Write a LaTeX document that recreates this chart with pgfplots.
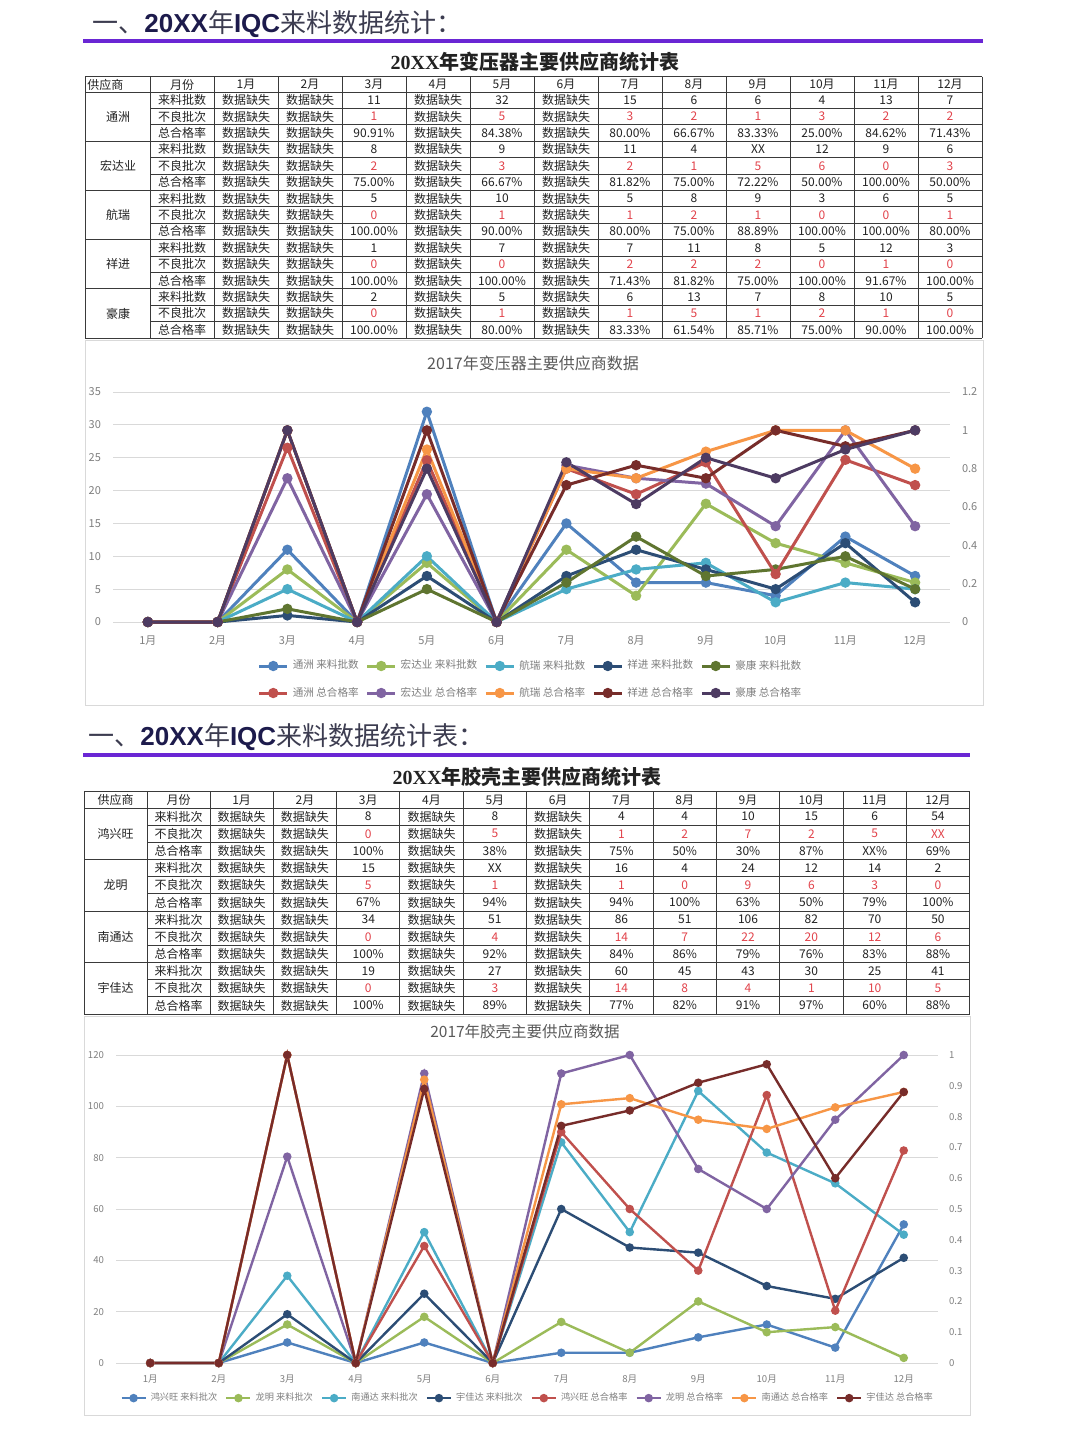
\documentclass[border=0pt]{standalone}
\usepackage{pgfplots}
\pgfplotsset{compat=1.18}
\usepackage{pgfplotstable}
\usepackage{fontspec}
\setmainfont{Noto Sans CJK SC}
\newfontfamily\hd{Liberation Sans}
\newfontfamily\ser{Liberation Serif}

\definecolor{cblue}{HTML}{4F81BD}
\definecolor{cred}{HTML}{C0504D}
\definecolor{cgreen}{HTML}{9BBB59}
\definecolor{cpurple}{HTML}{8064A2}
\definecolor{caqua}{HTML}{4BACC6}
\definecolor{corange}{HTML}{F79646}
\definecolor{cnavy}{HTML}{2C4D75}
\definecolor{cdred}{HTML}{772C2A}
\definecolor{colive}{HTML}{5F7530}
\definecolor{cdpurple}{HTML}{4D3B62}
\definecolor{tickgray}{HTML}{7F7F7F}
\definecolor{titlegray}{HTML}{595959}
\definecolor{gridgray}{HTML}{D9D9D9}
\definecolor{hpurple}{HTML}{6A26D4}
\definecolor{hnavy}{HTML}{1D1B4C}
\definecolor{hgray}{HTML}{3C3C50}
\definecolor{tred}{HTML}{E2434B}
\definecolor{tline}{HTML}{3A3A3A}
\definecolor{ttext}{HTML}{222222}

\def\M{数据缺失}
\newcommand\R[1]{\textcolor{tred}{#1}}

\newcommand\TArow[3]{%
  \node[tc] at (182,{92+16.4*(#1+0.5)}) {#2};
  \foreach \v [count=\i from 0] in {#3}{\node[tc] at ({246+64*\i},{92+16.4*(#1+0.5)}) {\v};}%
}
\newcommand\TBrow[3]{%
  \node[tc] at (178.5,{808+17.17*(#1+0.5)}) {#2};
  \foreach \v [count=\i from 0] in {#3}{\node[tc] at ({241.65+63.3*\i},{808+17.17*(#1+0.5)}) {\v};}%
}

\pgfplotstableread{
m tzA hdA hrA xjA hkA tzB hdB hrB xjB hkB
1 0 0 0 0 0 0 0 0 0 0
2 0 0 0 0 0 0 0 0 0 0
3 11 8 5 1 2 0.9091 0.75 1.00 1.00 1.00
4 0 0 0 0 0 0 0 0 0 0
5 32 9 10 7 5 0.8438 0.6667 0.90 1.00 0.80
6 0 0 0 0 0 0 0 0 0 0
7 15 11 5 7 6 0.80 0.8182 0.80 0.7143 0.8333
8 6 4 8 11 13 0.6667 0.75 0.75 0.8182 0.6154
9 6 18 9 8 7 0.8333 0.7222 0.8889 0.75 0.8571
10 4 12 3 5 8 0.25 0.50 1.00 1.00 0.75
11 13 9 6 12 10 0.8462 1.00 1.00 0.9167 0.90
12 7 6 5 3 5 0.7143 0.50 0.80 1.00 1.00
}\dataA

\pgfplotstableread{
m hxA lmA ntA yjA hxB lmB ntB yjB
1 0 0 0 0 0 0 0 0
2 0 0 0 0 0 0 0 0
3 8 15 34 19 1.00 0.67 1.00 1.00
4 0 0 0 0 0 0 0 0
5 8 18 51 27 0.38 0.94 0.92 0.89
6 0 0 0 0 0 0 0 0
7 4 16 86 60 0.75 0.94 0.84 0.77
8 4 4 51 45 0.50 1.00 0.86 0.82
9 10 24 106 43 0.30 0.63 0.79 0.91
10 15 12 82 30 0.87 0.50 0.76 0.97
11 6 14 70 25 0.17 0.79 0.83 0.60
12 54 2 50 41 0.69 1.00 0.88 0.88
}\dataB

\pgfplotsset{
  cbase/.style={scale only axis, xmin=0.5, xmax=12.5, xtick={1,...,12},
    xticklabels={1月,2月,3月,4月,5月,6月,7月,8月,9月,10月,11月,12月},
    major tick length=0pt, axis line style={draw=none},
    ticklabel style={text=tickgray},
    /pgf/number format/assume math mode=true,
    clip=false, grid style={gridgray, line width=0.5pt}},
  s1/.style={color=#1, line width=1.5pt, mark=*, mark size=1.8pt, mark options={solid, fill=#1}},
  s2/.style={color=#1, line width=1.2pt, mark=*, mark size=1.5pt, mark options={solid, fill=#1}},
}

\begin{document}
\begin{tikzpicture}
\begin{scope}[x=0.5pt,y=-0.5pt]
\fill[white] (0,0) rectangle (1080,1440);
\tikzset{tc/.style={font=\fontsize{6}{7}\selectfont, text=ttext, inner sep=0pt}}

% ---------- header 1
\node[anchor=west, inner sep=0pt, font=\fontsize{13}{15}\selectfont, text=hgray] at (92,24)
  {一、{\hd\bfseries\color{hnavy}20XX}年{\hd\bfseries\color{hnavy}IQC}来料数据统计：};
\draw[hpurple, line width=2pt] (83,41) -- (983,41);
\node[font=\fontsize{10}{12}\selectfont\bfseries, text=ttext] at (535,62) {{\ser\bfseries 20XX}年变压器主要供应商统计表};

% ---------- table 1 grid
\foreach \x in {85,150,214,278,...,982} \draw[tline, line width=0.5pt] (\x,76.5) -- (\x,338);
\draw[tline, line width=0.5pt] (85,76.5) -- (982,76.5);
\foreach \k in {0,...,15} \draw[tline, line width=0.5pt] (150,{92+16.4*\k}) -- (982,{92+16.4*\k});
\foreach \s in {0,...,5} \draw[tline, line width=0.5pt] (85,{92+49.2*\s}) -- (982,{92+49.2*\s});
\node[tc, anchor=west] at (87,84.5) {供应商};
\node[tc] at (182,84.5) {月份};
\foreach \i in {1,...,12} \node[tc] at ({246+64*(\i-1)},84.5) {\i 月};
\node[tc] at (118,{92+16.4*1.5}) {通洲};
\node[tc] at (118,{92+16.4*4.5}) {宏达业};
\node[tc] at (118,{92+16.4*7.5}) {航瑞};
\node[tc] at (118,{92+16.4*10.5}) {祥进};
\node[tc] at (118,{92+16.4*13.5}) {豪康};
\TArow{0}{来料批数}{\M,\M,11,\M,32,\M,15,6,6,4,13,7}
\TArow{1}{不良批次}{\M,\M,\R1,\M,\R5,\M,\R3,\R2,\R1,\R3,\R2,\R2}
\TArow{2}{总合格率}{\M,\M,90.91\%,\M,84.38\%,\M,80.00\%,66.67\%,83.33\%,25.00\%,84.62\%,71.43\%}
\TArow{3}{来料批数}{\M,\M,8,\M,9,\M,11,4,XX,12,9,6}
\TArow{4}{不良批次}{\M,\M,\R2,\M,\R3,\M,\R2,\R1,\R5,\R6,\R0,\R3}
\TArow{5}{总合格率}{\M,\M,75.00\%,\M,66.67\%,\M,81.82\%,75.00\%,72.22\%,50.00\%,100.00\%,50.00\%}
\TArow{6}{来料批数}{\M,\M,5,\M,10,\M,5,8,9,3,6,5}
\TArow{7}{不良批次}{\M,\M,\R0,\M,\R1,\M,\R1,\R2,\R1,\R0,\R0,\R1}
\TArow{8}{总合格率}{\M,\M,100.00\%,\M,90.00\%,\M,80.00\%,75.00\%,88.89\%,100.00\%,100.00\%,80.00\%}
\TArow{9}{来料批数}{\M,\M,1,\M,7,\M,7,11,8,5,12,3}
\TArow{10}{不良批次}{\M,\M,\R0,\M,\R0,\M,\R2,\R2,\R2,\R0,\R1,\R0}
\TArow{11}{总合格率}{\M,\M,100.00\%,\M,100.00\%,\M,71.43\%,81.82\%,75.00\%,100.00\%,91.67\%,100.00\%}
\TArow{12}{来料批数}{\M,\M,2,\M,5,\M,6,13,7,8,10,5}
\TArow{13}{不良批次}{\M,\M,\R0,\M,\R1,\M,\R1,\R5,\R1,\R2,\R1,\R0}
\TArow{14}{总合格率}{\M,\M,100.00\%,\M,80.00\%,\M,83.33\%,61.54\%,85.71\%,75.00\%,90.00\%,100.00\%}

% chart 1 frame & title
\draw[gray!30, line width=0.5pt] (85,340) rectangle (983,705);
\node[font=\fontsize{8}{10}\selectfont, text=titlegray] at (533,363) {2017年变压器主要供应商数据};

% ---------- header 2
\node[anchor=west, inner sep=0pt, font=\fontsize{13}{15}\selectfont, text=hgray] at (88,737)
  {一、{\hd\bfseries\color{hnavy}20XX}年{\hd\bfseries\color{hnavy}IQC}来料数据统计表：};
\draw[hpurple, line width=2pt] (83,755) -- (970,755);
\node[font=\fontsize{10}{12}\selectfont\bfseries, text=ttext] at (527,777) {{\ser\bfseries 20XX}年胶壳主要供应商统计表};

% ---------- table 2 grid
\foreach \x in {84,147} \draw[tline, line width=0.5pt] (\x,791) -- (\x,1014);
\foreach \k in {0,...,12} \draw[tline, line width=0.5pt] ({210+63.3*\k},791) -- ({210+63.3*\k},1014);
\draw[tline, line width=0.5pt] (84,791) -- (969.6,791);
\foreach \k in {0,...,12} \draw[tline, line width=0.5pt] (147,{808+17.17*\k}) -- (969.6,{808+17.17*\k});
\foreach \s in {0,...,4} \draw[tline, line width=0.5pt] (84,{808+51.5*\s}) -- (969.6,{808+51.5*\s});
\node[tc] at (115.5,800) {供应商};
\node[tc] at (178.5,800) {月份};
\foreach \i in {1,...,12} \node[tc] at ({241.65+63.3*(\i-1)},800) {\i 月};
\node[tc] at (115.5,{808+17.17*1.5}) {鸿兴旺};
\node[tc] at (115.5,{808+17.17*4.5}) {龙明};
\node[tc] at (115.5,{808+17.17*7.5}) {南通达};
\node[tc] at (115.5,{808+17.17*10.5}) {宇佳达};
\TBrow{0}{来料批次}{\M,\M,8,\M,8,\M,4,4,10,15,6,54}
\TBrow{1}{不良批次}{\M,\M,\R0,\M,\R5,\M,\R1,\R2,\R7,\R2,\R5,\R{XX}}
\TBrow{2}{总合格率}{\M,\M,100\%,\M,38\%,\M,75\%,50\%,30\%,87\%,XX\%,69\%}
\TBrow{3}{来料批次}{\M,\M,15,\M,XX,\M,16,4,24,12,14,2}
\TBrow{4}{不良批次}{\M,\M,\R5,\M,\R1,\M,\R1,\R0,\R9,\R6,\R3,\R0}
\TBrow{5}{总合格率}{\M,\M,67\%,\M,94\%,\M,94\%,100\%,63\%,50\%,79\%,100\%}
\TBrow{6}{来料批次}{\M,\M,34,\M,51,\M,86,51,106,82,70,50}
\TBrow{7}{不良批次}{\M,\M,\R0,\M,\R4,\M,\R{14},\R7,\R{22},\R{20},\R{12},\R6}
\TBrow{8}{总合格率}{\M,\M,100\%,\M,92\%,\M,84\%,86\%,79\%,76\%,83\%,88\%}
\TBrow{9}{来料批次}{\M,\M,19,\M,27,\M,60,45,43,30,25,41}
\TBrow{10}{不良批次}{\M,\M,\R0,\M,\R3,\M,\R{14},\R8,\R4,\R1,\R{10},\R5}
\TBrow{11}{总合格率}{\M,\M,100\%,\M,89\%,\M,77\%,82\%,91\%,97\%,60\%,88\%}

% chart 2 frame & title
\draw[gray!30, line width=0.5pt] (84,1016) rectangle (970,1415);
\node[font=\fontsize{7.75}{9}\selectfont, text=titlegray] at (525,1032) {2017年胶壳主要供应商数据};
\end{scope}

% ================= chart 1
\begin{axis}[cbase, at={(56.5pt,-311pt)}, anchor=south west, width=418.5pt, height=115pt,
  ymin=0, ymax=35, ytick={0,5,...,35}, ymajorgrids,
  ticklabel style={font=\fontsize{5.5}{6}\selectfont},
  xticklabel style={yshift=-3.5pt}, yticklabel style={xshift=-2.5pt}]
\addplot[s1=cblue] table[x=m,y=tzA]{\dataA};
\addplot[s1=cgreen] table[x=m,y=hdA]{\dataA};
\addplot[s1=caqua] table[x=m,y=hrA]{\dataA};
\addplot[s1=cnavy] table[x=m,y=xjA]{\dataA};
\addplot[s1=colive] table[x=m,y=hkA]{\dataA};
\end{axis}
\begin{axis}[cbase, at={(56.5pt,-311pt)}, anchor=south west, width=418.5pt, height=115pt,
  ymin=0, ymax=1.2, ytick={0,0.2,0.4,0.6,0.8,1,1.2}, yticklabel pos=right, hide x axis,
  ticklabel style={font=\fontsize{5.5}{6}\selectfont}, yticklabel style={xshift=2.5pt},
  legend columns=5, legend cell align=left,
  legend style={at={(0.5,-0.25)}, anchor=center, draw=none, fill=none,
    font=\fontsize{5.3}{6}\selectfont, text=tickgray, row sep=3.5pt,
    /tikz/every even column/.append style={column sep=1.5pt}},
  legend image code/.code={\draw[mark repeat=2,mark phase=2] plot coordinates {(0pt,0pt)(7pt,0pt)(14pt,0pt)};}]
\addlegendimage{s1=cblue}\addlegendentry{通洲 来料批数}
\addlegendimage{s1=cgreen}\addlegendentry{宏达业 来料批数}
\addlegendimage{s1=caqua}\addlegendentry{航瑞 来料批数}
\addlegendimage{s1=cnavy}\addlegendentry{祥进 来料批数}
\addlegendimage{s1=colive}\addlegendentry{豪康 来料批数}
\addplot[s1=cred] table[x=m,y=tzB]{\dataA}; \addlegendentry{通洲 总合格率}
\addplot[s1=cpurple] table[x=m,y=hdB]{\dataA}; \addlegendentry{宏达业 总合格率}
\addplot[s1=corange] table[x=m,y=hrB]{\dataA}; \addlegendentry{航瑞 总合格率}
\addplot[s1=cdred] table[x=m,y=xjB]{\dataA}; \addlegendentry{祥进 总合格率}
\addplot[s1=cdpurple] table[x=m,y=hkB]{\dataA}; \addlegendentry{豪康 总合格率}
\end{axis}

% ================= chart 2
\begin{axis}[cbase, at={(58pt,-681.5pt)}, anchor=south west, width=411pt, height=154pt,
  ymin=0, ymax=120, ytick={0,20,...,120}, ymajorgrids,
  ticklabel style={font=\fontsize{4.8}{5.5}\selectfont},
  xticklabel style={yshift=-2.5pt}, yticklabel style={xshift=-2.5pt}]
\addplot[s2=cblue] table[x=m,y=hxA]{\dataB};
\addplot[s2=cgreen] table[x=m,y=lmA]{\dataB};
\addplot[s2=caqua] table[x=m,y=ntA]{\dataB};
\addplot[s2=cnavy] table[x=m,y=yjA]{\dataB};
\end{axis}
\begin{axis}[cbase, at={(58pt,-681.5pt)}, anchor=south west, width=411pt, height=154pt,
  ymin=0, ymax=1, ytick={0,0.1,0.2,0.3,0.4,0.5,0.6,0.7,0.8,0.9,1}, yticklabel pos=right, hide x axis,
  ticklabel style={font=\fontsize{4.8}{5.5}\selectfont}, yticklabel style={xshift=2pt},
  legend columns=8, legend cell align=left,
  legend style={at={(0.502,-0.114)}, anchor=center, draw=none, fill=none,
    font=\fontsize{4.6}{5.5}\selectfont, text=tickgray,
    /tikz/every even column/.append style={column sep=2pt}},
  legend image code/.code={\draw[mark repeat=2,mark phase=2] plot coordinates {(0pt,0pt)(6pt,0pt)(12pt,0pt)};}]
\addlegendimage{s2=cblue}\addlegendentry{鸿兴旺 来料批次}
\addlegendimage{s2=cgreen}\addlegendentry{龙明 来料批次}
\addlegendimage{s2=caqua}\addlegendentry{南通达 来料批次}
\addlegendimage{s2=cnavy}\addlegendentry{宇佳达 来料批次}
\addplot[s2=cred] table[x=m,y=hxB]{\dataB}; \addlegendentry{鸿兴旺 总合格率}
\addplot[s2=cpurple] table[x=m,y=lmB]{\dataB}; \addlegendentry{龙明 总合格率}
\addplot[s2=corange] table[x=m,y=ntB]{\dataB}; \addlegendentry{南通达 总合格率}
\addplot[s2=cdred] table[x=m,y=yjB]{\dataB}; \addlegendentry{宇佳达 总合格率}
\end{axis}
\end{tikzpicture}
\end{document}
